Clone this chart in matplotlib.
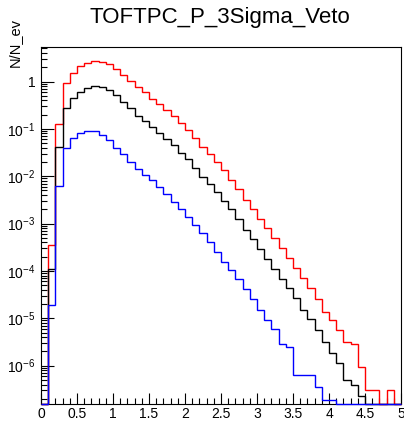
import numpy as np
import matplotlib
matplotlib.use("Agg")
import matplotlib.pyplot as plt
from matplotlib.ticker import FixedLocator, FuncFormatter, LogLocator, NullFormatter, MultipleLocator

plt.rcParams['font.family'] = ['Liberation Sans', 'DejaVu Sans']
plt.rcParams['mathtext.fontset'] = 'custom'
plt.rcParams['mathtext.rm'] = 'Liberation Sans'
plt.rcParams['mathtext.it'] = 'Liberation Sans:italic'
plt.rcParams['mathtext.bf'] = 'Liberation Sans:bold'

title = "TOFTPC_P_3Sigma_Veto"
ylabel = "N/N_ev"

# bin edges: 50 bins of 0.1 from 0 to 5
edges = np.linspace(0.0, 5.0, 51)

red = [0, 3.5e-4, 0.126, 0.92, 1.49, 2.13, 2.5, 2.71, 2.62, 2.34,
       1.84, 1.37, 1.03, 0.76, 0.59, 0.427, 0.33, 0.25, 0.187, 0.131,
       0.094, 0.063, 0.041, 0.029, 0.020, 0.0133, 8.3e-3, 5.3e-3, 3.1e-3, 2.0e-3,
       1.26e-3, 8.2e-4, 5.0e-4, 3.1e-4, 1.9e-4, 1.15e-4, 7.2e-5, 4.3e-5, 2.6e-5, 1.36e-5,
       9.1e-6, 5.6e-6, 3.1e-6, 2.9e-6, 9.4e-7, 3.1e-7, 3.1e-7, 0, 3.1e-7, 0]

black = [0, 1.1e-4, 0.041, 0.27, 0.455, 0.61, 0.74, 0.82, 0.78, 0.66,
         0.51, 0.375, 0.27, 0.187, 0.146, 0.108, 0.083, 0.060, 0.0455, 0.0304,
         0.0227, 0.0146, 0.0097, 6.8e-3, 4.7e-3, 3.0e-3, 2.0e-3, 1.23e-3, 7.5e-4, 4.7e-4,
         2.9e-4, 1.83e-4, 1.12e-4, 6.9e-5, 4.3e-5, 2.7e-5, 1.5e-5, 9.5e-6, 5.6e-6, 3.2e-6,
         1.87e-6, 1.14e-6, 4.9e-7, 4.0e-7, 2.3e-7, 0, 0, 0, 0, 0]

blue = [0, 1.9e-5, 6.3e-3, 0.040, 0.063, 0.080, 0.091, 0.090, 0.073, 0.058,
        0.039, 0.029, 0.0202, 0.0145, 0.0108, 8.3e-3, 6.0e-3, 4.2e-3, 2.9e-3, 2.0e-3,
        1.39e-3, 9.3e-4, 6.2e-4, 4.1e-4, 2.5e-4, 1.55e-4, 1.04e-4, 6.6e-5, 4.1e-5, 2.5e-5,
        1.5e-5, 9.4e-6, 6.0e-6, 2.9e-6, 2.5e-6, 6.3e-7, 6.3e-7, 6.3e-7, 3.6e-7, 1.85e-7,
        1.85e-7, 0, 0, 0, 0, 0, 0, 0, 0, 0]

ymin, ymax = 1.55e-7, 5.36

fig = plt.figure(figsize=(4.04, 4.23), dpi=100)
ax = fig.add_axes([41/404, 19/423, 360/404, 357/423])
ax.set_yscale('log')
ax.set_xlim(0, 5)
ax.set_ylim(ymin, ymax)

for vals, col in [(red, 'red'), (black, 'black'), (blue, 'blue')]:
    v = np.array(vals, dtype=float)
    v = np.where(v > 0, v, ymin)
    ax.stairs(v, edges, baseline=None, color=col, linewidth=1.0, zorder=3, clip_on=False)

# ticks
ax.xaxis.set_major_locator(MultipleLocator(0.5))
ax.xaxis.set_minor_locator(MultipleLocator(0.1))
ax.xaxis.set_major_formatter(FuncFormatter(lambda x, p: ('%g' % x)))
ax.yaxis.set_major_locator(FixedLocator([10.0**k for k in range(-6, 1)]))
def yfmt(y, p):
    k = int(round(np.log10(y)))
    if k == 0:
        return '1'
    return r'$\mathregular{10^{%d}}$' % k
ax.yaxis.set_major_formatter(FuncFormatter(yfmt))
ax.yaxis.set_minor_locator(LogLocator(base=10, subs=np.arange(2, 10), numticks=20))
ax.yaxis.set_minor_formatter(NullFormatter())

ax.tick_params(axis='both', which='both', direction='in', top=False, right=False, labelsize=10)
ax.tick_params(axis='x', which='major', length=8, width=0.8, pad=2)
ax.tick_params(axis='x', which='minor', length=4, width=0.8)
ax.tick_params(axis='y', which='major', length=9, width=0.8, pad=4)
ax.tick_params(axis='y', which='minor', length=4.5, width=0.8)
for s in ax.spines.values():
    s.set_linewidth(0.8)

fig.text(220/404, 1 - 17/423, title, ha='center', va='center', fontsize=16)
fig.text(15/404, 1 - 18/423, ylabel, ha='center', va='top', rotation=90, fontsize=10.5)

fig.savefig('out.png', dpi=100)
